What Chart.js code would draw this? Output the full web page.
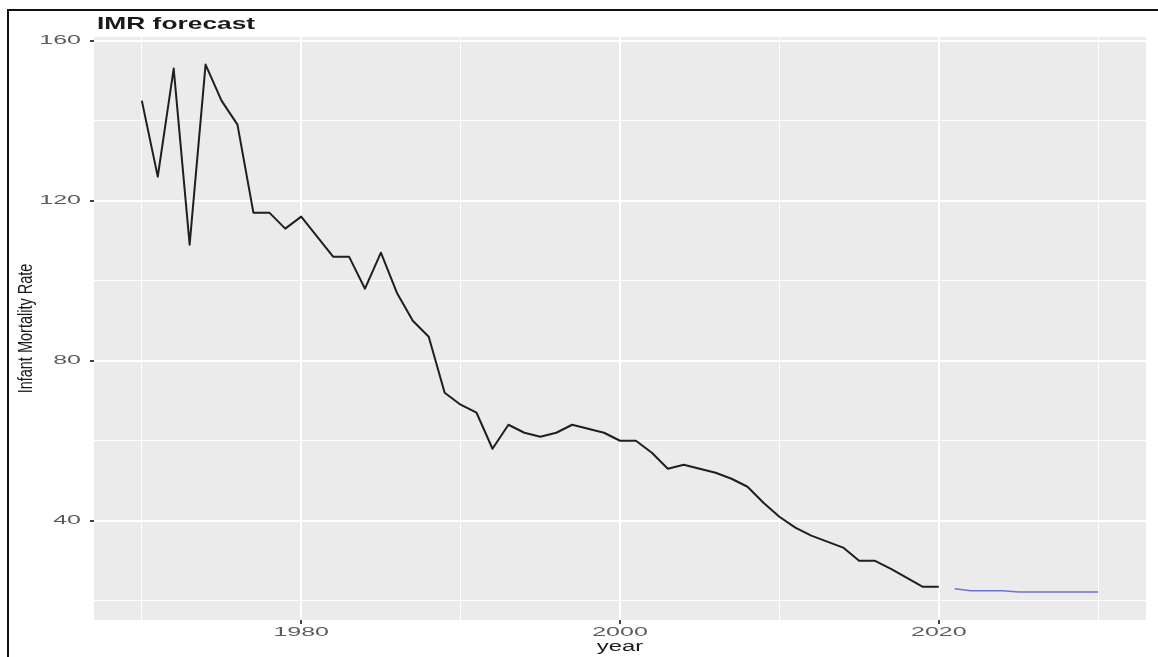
<!DOCTYPE html>
<html>
<head>
<meta charset="utf-8">
<title>IMR forecast</title>
<script src="https://cdn.jsdelivr.net/npm/chart.js@4.4.0/dist/chart.umd.min.js"></script>
<style>
  html, body { margin: 0; padding: 0; background: #fff; }
  #wrap { width: 1158px; height: 657px; }
</style>
</head>
<body>
<div id="wrap"><canvas id="imrChart" width="1158" height="657"></canvas></div>
<script>
// observed series
const years = [1970, 1971, 1972, 1973, 1974, 1975, 1976, 1977, 1978, 1979,
  1980, 1981, 1982, 1983, 1984, 1985, 1986, 1987, 1988, 1989,
  1990, 1991, 1992, 1993, 1994, 1995, 1996, 1997, 1998, 1999,
  2000, 2001, 2002, 2003, 2004, 2005, 2006, 2007, 2008, 2009,
  2010, 2011, 2012, 2013, 2014, 2015, 2016, 2017, 2018, 2019, 2020];
const imr = [145, 126, 153, 109, 154, 145, 139, 117, 117, 113,
  116, 111, 106, 106, 98, 107, 97, 90, 86, 72,
  69, 67, 58, 64, 62, 61, 62, 64, 63, 62,
  60, 60, 57, 53, 54, 53, 52, 50.5, 48.5, 44.5,
  41, 38.3, 36.3, 34.8, 33.3, 30, 30, 28, 25.7, 23.5, 23.5];

// forecast
const forecastYears = [2021, 2022, 2023, 2024, 2025, 2026, 2027, 2028, 2029, 2030];
const forecast = [23, 22.5, 22.5, 22.5, 22.2, 22.2, 22.2, 22.2, 22.2, 22.2];

// axes
const yTicks = [20, 40, 60, 80, 100, 120, 140, 160];
const yLabels = [40, 80, 120, 160];
const xTicks = [1970, 1980, 1990, 2000, 2010, 2020, 2030];
const xLabels = [1980, 2000, 2020];

const FONT = '"Liberation Sans", Arial, sans-serif';

// text in the picture is stretched sideways, draw it that way
function wideText(ctx, text, x, y, sx, align) {
  ctx.save();
  ctx.translate(x, y);
  ctx.scale(sx, 1);
  ctx.textAlign = align;
  ctx.fillText(text, 0, 0);
  ctx.restore();
}

const ggStyle = {
  id: 'ggStyle',
  beforeDraw(chart) {
    const { ctx, chartArea: a } = chart;
    ctx.save();
    ctx.fillStyle = '#fff';
    ctx.fillRect(0, 0, chart.width, chart.height);
    ctx.fillStyle = '#ebebeb';
    ctx.fillRect(a.left, a.top, a.right - a.left, a.bottom - a.top);
    // frame of the screenshot
    ctx.fillStyle = '#111';
    ctx.fillRect(7, 9, chart.width - 7, 2);
    ctx.fillRect(7, 9, 2, chart.height - 9);
    ctx.restore();
  },
  afterDraw(chart) {
    const { ctx, chartArea: a } = chart;
    const xs = chart.scales.x, ys = chart.scales.y;
    ctx.save();
    ctx.textBaseline = 'middle';

    // title
    ctx.fillStyle = '#1a1a1a';
    ctx.font = 'bold 17px ' + FONT;
    wideText(ctx, 'IMR forecast', 97, 24, 1.55, 'left');

    // tick labels
    ctx.fillStyle = '#5c5c5c';
    ctx.font = '12.5px ' + FONT;
    yLabels.forEach(v => wideText(ctx, String(v), 81, ys.getPixelForValue(v), 2.0, 'right'));
    xLabels.forEach(v => wideText(ctx, String(v), xs.getPixelForValue(v), 633, 2.0, 'center'));

    // axis titles
    ctx.fillStyle = '#1a1a1a';
    ctx.font = '14px ' + FONT;
    wideText(ctx, 'year', (a.left + a.right) / 2, 647, 1.7, 'center');

    ctx.save();
    ctx.translate(26, (a.top + a.bottom) / 2);
    ctx.rotate(-Math.PI / 2);
    ctx.scale(1, 1.4);
    ctx.font = '14.5px ' + FONT;
    ctx.textAlign = 'center';
    ctx.fillText('Infant Mortality Rate', 0, 0);
    ctx.restore();

    ctx.restore();
  }
};

const ctx = document.getElementById('imrChart').getContext('2d');

const imrChart = new Chart(ctx, {
  type: 'line',
  data: {
    datasets: [{
      label: 'IMR',
      data: years.map((yr, i) => ({ x: yr, y: imr[i] })),
      borderColor: '#1f1f1f',
      borderWidth: 2,
      pointRadius: 0,
      tension: 0,
      borderJoinStyle: 'round'
    }, {
      label: 'forecast',
      data: forecastYears.map((yr, i) => ({ x: yr, y: forecast[i] })),
      borderColor: '#7070d2',
      borderWidth: 1.5,
      pointRadius: 0,
      tension: 0
    }]
  },
  options: {
    responsive: false,
    animation: false,
    layout: { padding: { top: 37, right: 12, left: 0, bottom: 0 } },
    plugins: {
      legend: { display: false },
      tooltip: { enabled: false }
    },
    scales: {
      x: {
        type: 'linear',
        min: 1967,
        max: 2033,
        afterBuildTicks: s => { s.ticks = xTicks.map(v => ({ value: v })); },
        afterFit: s => { s.height = 37; },
        ticks: { display: false },
        border: { display: false },
        grid: {
          color: '#ffffff',
          lineWidth: c => (c.tick && xLabels.includes(c.tick.value)) ? 2 : 1,
          tickColor: c => (c.tick && xLabels.includes(c.tick.value)) ? '#444' : 'rgba(0,0,0,0)',
          tickLength: 4
        }
      },
      y: {
        min: 15.2,
        max: 160.9,
        afterBuildTicks: s => { s.ticks = yTicks.map(v => ({ value: v })); },
        afterFit: s => { s.width = 94; },
        ticks: { display: false },
        border: { display: false },
        grid: {
          color: '#ffffff',
          lineWidth: c => (c.tick && yLabels.includes(c.tick.value)) ? 2 : 1,
          tickColor: c => (c.tick && yLabels.includes(c.tick.value)) ? '#444' : 'rgba(0,0,0,0)',
          tickLength: 4
        }
      }
    }
  },
  plugins: [ggStyle]
});
</script>
</body>
</html>
